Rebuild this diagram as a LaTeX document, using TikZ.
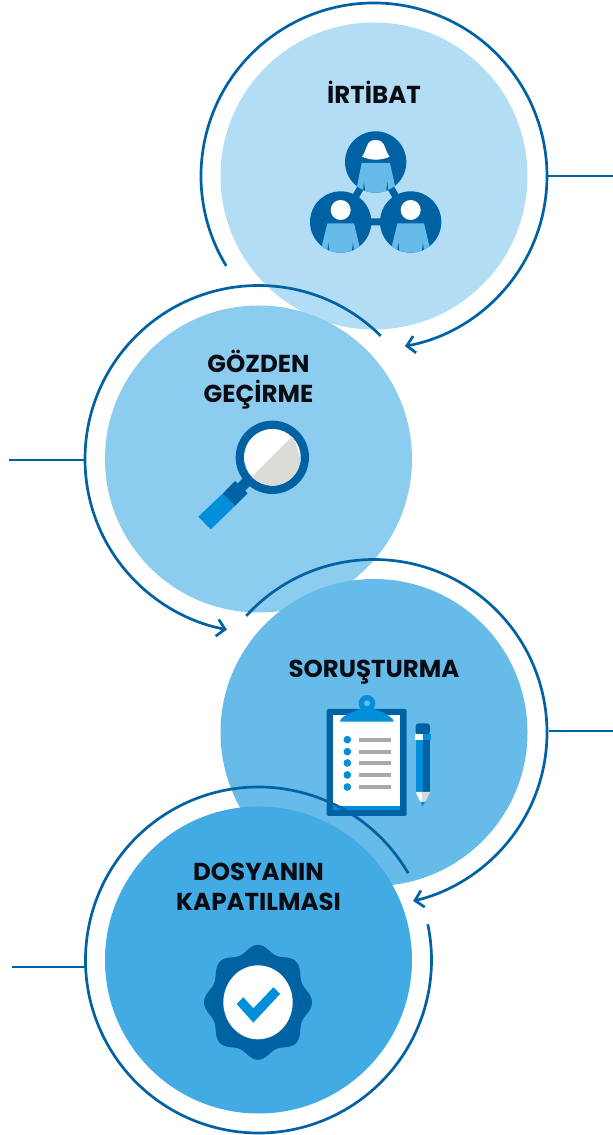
\documentclass[tikz,border=0pt]{standalone}
\usepackage{fontspec}
\setmainfont{Poppins}
\usetikzlibrary{calc,arrows.meta}
\definecolor{ringc}{HTML}{0061A3}
\definecolor{fillA}{HTML}{B3DDF4}
\definecolor{fillB}{HTML}{8CCCEE}
\definecolor{fillC}{HTML}{66BBE9}
\definecolor{fillD}{HTML}{42ABE4}
\definecolor{midblue}{HTML}{008FD8}
\definecolor{pale}{HTML}{DBDBD7}
\definecolor{barc}{HTML}{A7A9AC}
\definecolor{inkc}{HTML}{0A0C14}
\tikzset{
  disc/.style={circle,inner sep=0pt,minimum size=307pt,draw=none},
  ring/.style={draw=ringc,line width=2.7pt},
  arrowring/.style={ring,-{Straight Barb[length=8pt,width=17pt,line width=2.7pt]}},
  title/.style={font=\bfseries\fontsize{24.5}{30}\selectfont,text=inkc,align=center,inner sep=0pt,anchor=south,text depth=0pt},
  icon/.style={x=0.33333pt,y=-0.33333pt},
}
\begin{document}
\begin{tikzpicture}[x=1pt,y=1pt]
\useasboundingbox (0,0) rectangle (613,1135);
\fill[white] (0,0) rectangle (613,1135);

% ---------- 1 İRTİBAT
\node[disc,fill=fillA] (c1) at (374,959) {};
\node[title] (t1) at (374,1031.5) {İRTİBAT};
\begin{scope}[shift={(290,1065)},icon]
  \draw[ringc,line width=7pt] (257,276) -- (152,456) -- (362,456) -- cycle;
  \foreach \cx/\cy in {257/276,152/456,362/456}{\fill[ringc] (\cx,\cy) circle[radius=92];}
  \begin{scope}
    \clip (257,276) circle[radius=92];
    \fill[fillC] (215,279) -- (300,279) -- (322,380) -- (195,380) -- cycle;
    \fill[ringc] (218,370) -- (222,335) -- (226,370) -- cycle;
    \fill[ringc] (288,370) -- (292,335) -- (296,370) -- cycle;
  \end{scope}
  \fill[white] (216,260) .. controls (232,240) and (226,210) .. (257,210) .. controls (288,210) and (282,240) .. (299,260) .. controls (275,272) and (240,272) .. (216,260) -- cycle;
  \foreach \cx in {152,362}{
    \begin{scope}
      \clip (\cx,456) circle[radius=92];
      \fill[fillC] (\cx-40,460) -- (\cx+40,460) -- (\cx+64,560) -- (\cx-64,560) -- cycle;
      \fill[ringc] (\cx-41,550) -- (\cx-37,518) -- (\cx-33,550) -- cycle;
      \fill[ringc] (\cx+33,550) -- (\cx+37,518) -- (\cx+41,550) -- cycle;
    \end{scope}
    \fill[white] (\cx,420) circle[radius=30];
  }
\end{scope}
\draw[arrowring] ($(c1.center)+(211.3:173pt)$) arc[start angle=211.3,end angle=-79.7,radius=173pt];
\coordinate (e1) at (613,959);
\draw[ring] ($(c1.center)+(0:173pt)$) -- (e1);

% ---------- 2 GÖZDEN GEÇİRME
\node[disc,fill=fillB] (c2) at (258.5,676) {};
\node[title] (t2) at (258.5,732) {GÖZDEN\\GEÇİRME};
\begin{scope}[shift={(180,735)},icon]
  \fill[midblue] (128,281) -- (165,318) -- (92,388) -- (55,350) -- cycle;
  \fill[ringc] (165,243) -- (203,280) -- (165,318) -- (128,281) -- cycle;
  \fill[ringc] (195,228) -- (218,250) -- (190,278) -- (168,256) -- cycle;
  \fill[ringc] (277,172) circle[radius=110];
  \fill[white] (277,172) circle[radius=85];
  \begin{scope}
    \clip (277,172) circle[radius=85];
    \fill[pale] (340,106) -- (400,300) -- (210,236) -- cycle;
  \end{scope}
\end{scope}
\draw[arrowring] ($(c2.center)+(45.2:173.5pt)$) arc[start angle=45.2,end angle=259.5,radius=173.5pt];
\coordinate (e2) at (9,675);
\draw[ring] ($(c2.center)+(-173,-1)$) -- (e2);

% ---------- 3 SORUŞTURMA
\node[disc,fill=fillC] (c3) at (374,402.5) {};
\node[title] (t3) at (374,457) {SORUŞTURMA};
\begin{scope}[shift={(310,450)},icon]
  \fill[ringc,rounded corners=2pt] (50,72) rectangle (290,393);
  \fill[midblue] (70,90) rectangle (270,375);
  \fill[white] (70,90) rectangle (270,362);
  \fill[midblue] (90,110) .. controls (92,92) and (130,82) .. (147,72) -- (195,72) .. controls (212,82) and (248,92) .. (251,110) -- cycle;
  \fill[midblue] (171,55) circle[radius=25];
  \fill[fillC] (171,55) circle[radius=9];
  \foreach \yy in {164,200,234,270,306}{
    \fill[midblue] (112,\yy) circle[radius=11.5];
    \fill[barc] (147,\yy-6) rectangle (243,\yy+6);
  }
  % pencil
  \fill[ringc,rounded corners=3pt] (317,150) -- (317,115) -- (360,115) -- (360,150) -- cycle;
  \fill[white] (315,148) rectangle (338,165);
  \fill[midblue] (338,148) rectangle (362,165);
  \fill[midblue] (317,165) rectangle (338,321);
  \fill[ringc] (338,165) rectangle (360,321);
  \fill[white!92!pale] (317,321) -- (338,321) -- (338,365) -- cycle;
  \fill[pale] (338,321) -- (360,321) -- (338,365) -- cycle;
  \fill[midblue] (331,351) -- (346,351) -- (338,365) -- cycle;
\end{scope}
\draw[arrowring] ($(c3.center)+(137.6:173pt)$) arc[start angle=137.6,end angle=-76.9,radius=173pt];
\coordinate (e3) at (613,404);
\draw[ring] ($(c3.center)+(175,1.5)$) -- (e3);

% ---------- 4 DOSYANIN KAPATILMASI
\node[disc,fill=fillD] (c4) at (258.5,175) {};
\node[title] (t4) at (258.5,224.5) {DOSYANIN\\KAPATILMASI};
\begin{scope}[shift={(190,205)},icon]
  \fill[ringc] plot[smooth cycle,samples=72,domain=0:355,variable=\a] ({204+(152+10*cos(8*\a))*cos(\a)},{217+1.065*(152+10*cos(8*\a))*sin(\a)});
  \fill[white] (204,217) ellipse[x radius=104,y radius=111];
  \fill[midblue] (140,222) -- (160,202) -- (190,235) -- (250,172) -- (270,192) -- (190,278) -- cycle;
\end{scope}
\draw[ring] ($(c4.center)+(30.1:173pt)$) arc[start angle=30.1,end angle=371.9,radius=173pt];
\coordinate (e4) at (12,168);
\draw[ring] ($(c4.center)+(-173,-7)$) -- (e4);
\end{tikzpicture}
\end{document}
